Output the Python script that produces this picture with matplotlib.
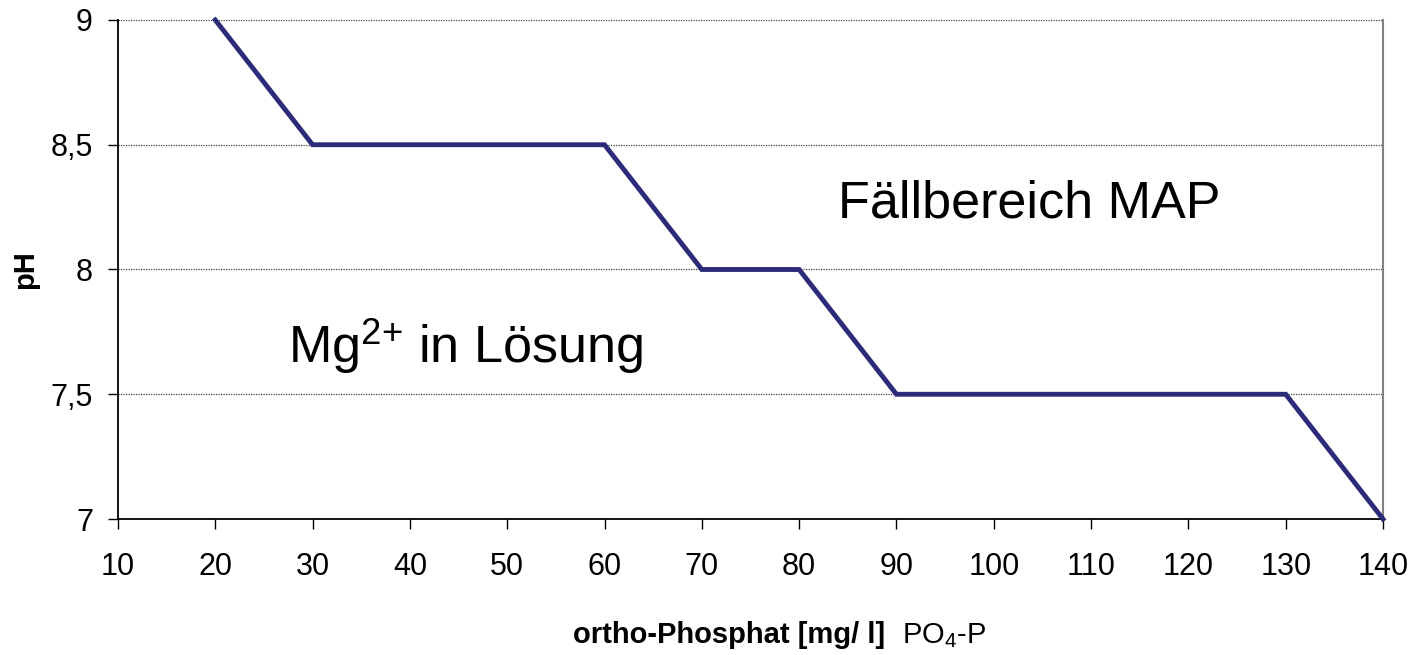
import numpy as np
import matplotlib.pyplot as plt

# pH limit for MAP precipitation vs. ortho-phosphate
phosphat = [20, 30, 60, 70, 80, 90, 130, 140]
ph = [9, 8.5, 8.5, 8, 8, 7.5, 7.5, 7]
xticks = list(range(10, 150, 10))
yticks = [7, 7.5, 8, 8.5, 9]
yticklabels = ['7', '7,5', '8', '8,5', '9']

plt.rcParams['font.family'] = ['Liberation Sans', 'DejaVu Sans']
plt.rcParams['mathtext.fontset'] = 'custom'
plt.rcParams['mathtext.rm'] = 'Liberation Sans'
plt.rcParams['mathtext.it'] = 'Liberation Sans'

fig = plt.figure(figsize=(14.16, 6.55), dpi=100)
ax = fig.add_axes([0.0833, 0.2076, 0.8934, 0.7619])

ax.plot(phosphat, ph, color='#2b2b7a', lw=3.5, solid_joinstyle='miter', clip_on=False, zorder=3)

ax.set_xlim(10, 140)
ax.set_ylim(7, 9)
ax.set_xticks(xticks)
ax.set_yticks(yticks)
ax.set_yticklabels(yticklabels)
ax.tick_params(axis='both', labelsize=22, length=7, width=1, direction='out')
ax.tick_params(axis='x', pad=17)
ax.tick_params(axis='y', pad=11)

for v in yticks[1:]:
    ax.axhline(v, color='#444444', lw=0.9, ls=(0, (1, 1)), zorder=1)

ax.spines['top'].set_visible(False)
ax.spines['right'].set_color('#808080')
ax.spines['right'].set_linewidth(1.5)
ax.spines['left'].set_linewidth(1.3)
ax.spines['bottom'].set_linewidth(1.3)

ax.set_ylabel('pH', fontsize=21, fontweight='bold', labelpad=8)

ax.text(84.0, 8.21, 'Fällbereich MAP', fontsize=37.5, va='baseline', ha='left')
ax.text(27.5, 7.625, r'Mg$^{2{+}}$ in Lösung', fontsize=37.5, va='baseline', ha='left')

fig.text(0.625, 0.0183, 'ortho-Phosphat [mg/ l]', fontsize=21, fontweight='bold', ha='right', va='baseline')
fig.text(0.637, 0.0183, r'PO$_4$-P', fontsize=21, ha='left', va='baseline')

fig.savefig('out.png', dpi=100)
